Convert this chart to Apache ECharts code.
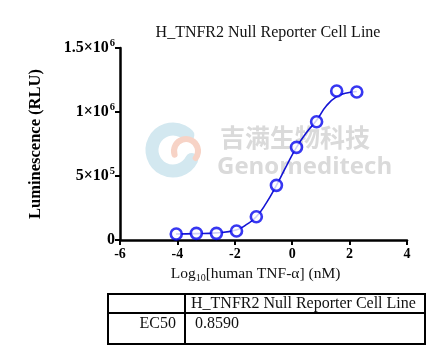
<!DOCTYPE html>
<html>
<head>
<meta charset="utf-8">
<script src="https://cdn.jsdelivr.net/npm/echarts@6/dist/echarts.min.js"></script>
<style>html,body{margin:0;padding:0;background:#fff}#c{width:444px;height:352px}</style>
</head>
<body>
<div id="c"></div>
<script>
// Measured points: log10 concentration (nM) and luminescence (RLU)
var doseLog = [-4.04, -3.34, -2.64, -1.94, -1.25, -0.55, 0.15, 0.85, 1.55, 2.25];
var response = [47000, 52000, 52000, 70000, 182000, 427000, 724000, 924000, 1164000, 1156000];
// Fitted curve
var curveX = [-4.05, -3.35, -2.65, -1.95, -1.6, -1.25, -0.9, -0.55, -0.2, 0.15, 0.5, 0.85, 1.2, 1.55, 1.9, 2.25];
var curveY = [47000, 50000, 56000, 78000, 120000, 182000, 290000, 427000, 580000, 724000, 840000, 935000, 1050000, 1120000, 1148000, 1160000];
var xTicks = [-6, -4, -2, 0, 2, 4];
var yTickLabels = {0: '0', 500000: '{b|5×10}{s|5}', 1000000: '{b|1×10}{s|6}', 1500000: '{b|1.5×10}{s|6}'};
var titleText = 'H_TNFR2 Null Reporter Cell Line';
var tableHeader = 'H_TNFR2 Null Reporter Cell Line';
var tableRowLabel = 'EC50';
var tableRowValue = '0.8590';

var serif = "'Liberation Serif','Times New Roman',serif";
var blue = '#0505ee';

var chart = echarts.init(document.getElementById('c'), null, {renderer: 'canvas'});

var pts = doseLog.map(function (x, i) { return [x, response[i]]; });
var curve = curveX.map(function (x, i) { return [x, curveY[i]]; });

var T = {left: 108, top: 294, right: 425, bottom: 344, mid: 313, col: 185};

chart.setOption({
  animation: false,
  backgroundColor: '#fff',
  title: {
    text: titleText, left: 263, top: 20, textAlign: 'center',
    textStyle: {fontFamily: serif, fontSize: 16, fontWeight: 'normal', color: '#111'}
  },
  grid: {left: 120, right: 37, top: 48, bottom: 112, containLabel: false},
  xAxis: {
    type: 'value', min: -6, max: 4, interval: 2,
    axisLine: {onZero: false, lineStyle: {color: '#000', width: 2.5}},
    axisTick: {show: true, length: 5, lineStyle: {color: '#000', width: 2}},
    axisLabel: {margin: 7, fontFamily: serif, fontSize: 14, fontWeight: 'bold', color: '#000',
      formatter: function (v) { return xTicks.indexOf(v) >= 0 ? String(v) : ''; }},
    splitLine: {show: false},
    name: 'Log{sub|10}[human TNF-α] (nM)',
    nameLocation: 'middle', nameGap: 24,
    nameTextStyle: {fontFamily: serif, fontSize: 15.5, color: '#111', padding: [0, 16, 0, 0],
      rich: {sub: {fontFamily: serif, fontSize: 10, color: '#111', padding: [8, 0, 0, 0]}}}
  },
  yAxis: {
    type: 'value', min: 0, max: 1500000, interval: 500000,
    axisLine: {show: true, onZero: false, lineStyle: {color: '#000', width: 2.5}},
    axisTick: {show: true, length: 5, lineStyle: {color: '#000', width: 2}},
    axisLabel: {margin: 5, fontFamily: serif, fontSize: 16, fontWeight: 'bold', color: '#000',
      formatter: function (v) { return yTickLabels[v] !== undefined ? yTickLabels[v] : ''; },
      rich: {
        b: {fontFamily: serif, fontSize: 16, fontWeight: 'bold', color: '#000'},
        s: {fontFamily: serif, fontSize: 10.5, fontWeight: 'bold', color: '#000', padding: [0, 0, 10, 1]}
      }},
    splitLine: {show: false},
    name: 'Luminescence (RLU)', nameLocation: 'middle', nameGap: 76, nameRotate: 90,
    nameTextStyle: {fontFamily: serif, fontSize: 16.5, fontWeight: 'bold', color: '#000'}
  },
  graphic: [
    // watermark logo
    {type: 'arc', z: -1, shape: {cx: 173, cy: 150, r: 21, startAngle: Math.PI * 0.15, endAngle: Math.PI * 1.75},
      style: {stroke: '#d3e8f0', lineWidth: 13, fill: null, lineCap: 'round'}, silent: true},
    {type: 'arc', z: -1, shape: {cx: 186, cy: 151, r: 12, startAngle: Math.PI * 0.9, endAngle: Math.PI * 2.2},
      style: {stroke: '#f7d3c6', lineWidth: 6, fill: null, lineCap: 'round'}, silent: true},
    {type: 'text', z: -1, left: 220, top: 125, silent: true,
      style: {text: '吉满生物科技', fontFamily: "'Noto Sans CJK SC',sans-serif", fontSize: 25, fontWeight: 'bold', fill: '#dadada'}},
    {type: 'text', z: -1, left: 217, top: 155, silent: true,
      style: {text: 'Genomeditech', fontFamily: "'Open Sans','DejaVu Sans',sans-serif", fontSize: 24, fontWeight: 'bold', fill: '#dadada'}},
    // table
    {type: 'rect', shape: {x: T.left, y: T.top, width: T.right - T.left, height: T.bottom - T.top},
      style: {stroke: '#000', lineWidth: 2, fill: '#fff'}},
    {type: 'line', shape: {x1: T.left, y1: T.mid, x2: T.right, y2: T.mid}, style: {stroke: '#000', lineWidth: 2}},
    {type: 'line', shape: {x1: T.col, y1: T.top, x2: T.col, y2: T.bottom}, style: {stroke: '#000', lineWidth: 2}},
    {type: 'text', x: 191, y: 304, style: {text: tableHeader, fontFamily: serif, fontSize: 16, fill: '#111', textVerticalAlign: 'middle'}},
    {type: 'text', x: 176, y: 324, style: {text: tableRowLabel, fontFamily: serif, fontSize: 16, fill: '#111', textAlign: 'right', textVerticalAlign: 'middle'}},
    {type: 'text', x: 195, y: 324, style: {text: tableRowValue, fontFamily: serif, fontSize: 16, fill: '#111', textVerticalAlign: 'middle'}}
  ],
  series: [
    {type: 'line', data: curve, smooth: true, showSymbol: false, z: 2,
      lineStyle: {color: '#1414d4', width: 1.6}},
    {type: 'scatter', data: pts, symbol: 'circle', symbolSize: 11, z: 3,
      itemStyle: {color: '#fff', borderColor: blue, borderWidth: 2.6}}
  ]
});
</script>
</body>
</html>
